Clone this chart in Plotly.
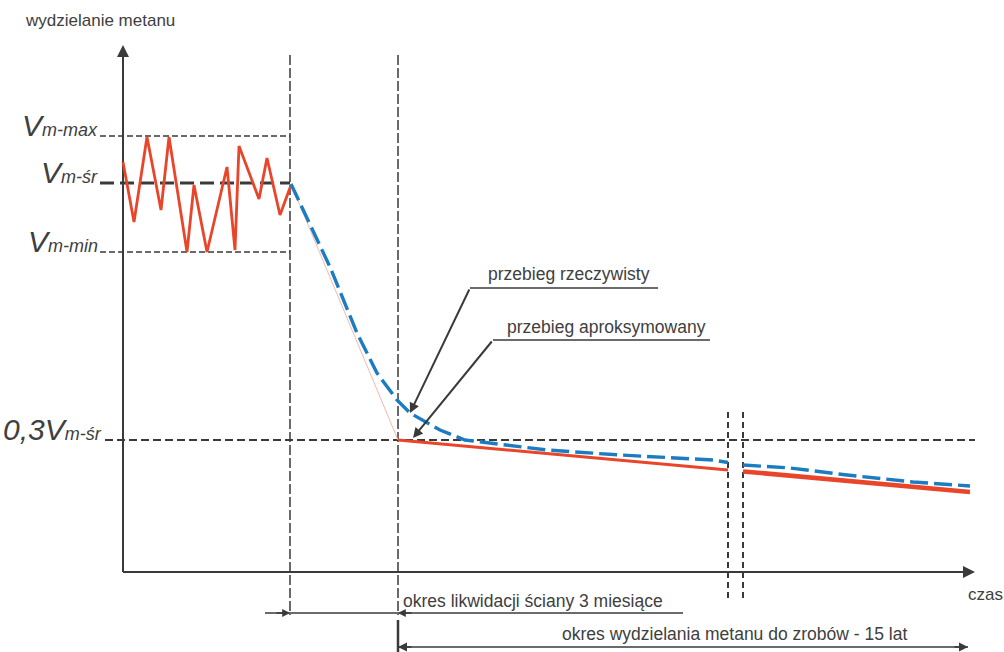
import plotly.graph_objects as go

# ---- data (x: time units, y: methane release units; origin at the axes crossing) ----
zig_t = [0, 11, 24, 38, 46, 64, 71, 84, 104, 112, 116, 136, 144, 157, 168]
zig_v = [410, 350, 435, 362, 435, 320, 387, 320, 405, 322, 426, 373, 414, 357, 387]

real_t_a = [168, 190, 207, 234, 254, 274, 287, 317, 342, 424, 497, 590, 605]
real_v_a = [388, 342, 305, 239, 199, 172, 159, 142, 132, 122, 117, 112, 109.5]
real_t_b = [620, 667, 724, 790, 847]
real_v_b = [107, 104, 97, 90, 86]

approx_t_a = [275, 605]
approx_v_a = [132, 102]
approx_t_b = [620, 847]
approx_v_b = [100.6, 80]

guide_t = [168, 275]
guide_v = [388, 132]

V_MAX, V_SR, V_MIN, V_03 = 436, 389, 320, 132
T_END, T_LIQ = 167, 275
T_BREAK = [605, 620]
T_AXIS_END, V_AXIS_END = 852, 527
LABEL_T = -23

RED = "#E8452A"
BLUE = "#1C7CC2"
DARK = "#3A3A3A"
TXT = "#404040"
FONT = "Liberation Sans, Arial, sans-serif"

fig = go.Figure()

fig.add_trace(go.Scatter(x=guide_t, y=guide_v, mode="lines",
                         line=dict(color="#F4B9AA", width=1), hoverinfo="skip"))
fig.add_trace(go.Scatter(x=zig_t, y=zig_v, mode="lines",
                         line=dict(color=RED, width=2.8), hoverinfo="skip"))
fig.add_trace(go.Scatter(x=approx_t_a, y=approx_v_a, mode="lines",
                         line=dict(color=RED, width=3), hoverinfo="skip"))
fig.add_trace(go.Scatter(x=approx_t_b, y=approx_v_b, mode="lines",
                         line=dict(color=RED, width=4.5), hoverinfo="skip"))
for tx, vy in ((real_t_a, real_v_a), (real_t_b, real_v_b)):
    fig.add_trace(go.Scatter(x=tx, y=vy, mode="lines",
                             line=dict(color=BLUE, width=3.4, dash="18px,6px"),
                             hoverinfo="skip"))

shapes = []
def seg(x0, y0, x1, y1, width=1.5, dash="solid", color=DARK):
    shapes.append(dict(type="line", xref="x", yref="y", x0=x0, y0=y0, x1=x1, y1=y1,
                       line=dict(color=color, width=width, dash=dash), layer="below"))

seg(-23, V_MAX, T_END, V_MAX, 1.5, "6px,3px")
seg(-23, V_SR, T_END, V_SR, 3, "14px,6px")
seg(-23, V_MIN, T_END, V_MIN, 1.5, "6px,3px")
seg(-18, V_03, T_AXIS_END, V_03, 2, "8px,4px")
seg(T_END, 517, T_END, -43, 1.5, "10px,3px")
seg(T_LIQ, 517, T_LIQ, -43, 1.5, "10px,3px")
seg(T_LIQ, -48, T_LIQ, -80, 2.5)
for tb in T_BREAK:
    seg(tb, 160, tb, -28, 2, "6px,4px")
seg(0, 0, 0, V_AXIS_END - 8, 2)
seg(0, 0, T_AXIS_END - 8, 0, 2)
seg(142, -41, 560, -41, 1.5)
seg(T_LIQ, -75, 845, -75, 1.5)
seg(347, 284, 535, 284, 1.5)
seg(370, 232, 587, 232, 1.5)

annotations = []
def arrow(x, y, ax, ay, width=1.5, size=1.0, head=2):
    annotations.append(dict(x=x, y=y, ax=ax, ay=ay, xref="x", yref="y", axref="x", ayref="y",
                            text="", showarrow=True, arrowhead=head, arrowsize=size,
                            arrowwidth=width, arrowcolor=DARK))

arrow(0, V_AXIS_END, 0, V_AXIS_END - 20, 2, 1.2)
arrow(T_AXIS_END, 0, T_AXIS_END - 20, 0, 2, 1.2)
arrow(T_END, -41, T_END - 15, -41, 1.3, 1.2)
arrow(T_LIQ, -41, T_LIQ + 15, -41, 1.3, 1.2)
arrow(T_LIQ, -75, T_LIQ + 15, -75, 1.5, 1.2)
arrow(845, -75, 830, -75, 1.5, 1.2)
arrow(287, 159, 347, 284, 2, 1.0)
arrow(290, 134, 370, 232, 2, 1.0)

def label(x, y, text, size=17.5, xanchor="left", yanchor="middle", yshift=0):
    annotations.append(dict(x=x, y=y, xref="x", yref="y", text=text, showarrow=False,
                            xanchor=xanchor, yanchor=yanchor, yshift=yshift,
                            font=dict(family=FONT, size=size, color=TXT)))

def vlabel(y, sub, pre="", t=LABEL_T):
    txt = (f"<i><span style='font-size:30px'>{pre}V</span>"
           f"<span style='font-size:18px'>{sub}</span></i>")
    label(t, y, txt, xanchor="right", yanchor="bottom", yshift=-8)

vlabel(V_MAX, "m-max")
vlabel(V_SR, "m-śr")
vlabel(V_MIN, "m-min")
vlabel(V_03, "m-śr", pre="0,3", t=LABEL_T + 4)

label(-100, 552, "wydzielanie metanu", 17)
label(843, -22, "czas", 17)
label(363, 298, "przebieg rzeczywisty")
label(382, 245, "przebieg aproksymowany")
label(278, -29, "okres likwidacji ściany 3 miesiące")
label(437, -62, "okres wydzielania metanu do zrobów - 15 lat")

fig.update_layout(
    width=1004, height=652, margin=dict(l=0, r=0, t=0, b=0),
    paper_bgcolor="white", plot_bgcolor="white", showlegend=False,
    xaxis=dict(range=[-123, 881], visible=False, fixedrange=True),
    yaxis=dict(range=[-80, 572], visible=False, fixedrange=True),
    shapes=shapes, annotations=annotations,
)
fig.write_html("out.html", config={"displayModeBar": False},
               post_script="document.body.style.margin='0';document.body.style.overflow='hidden';")
